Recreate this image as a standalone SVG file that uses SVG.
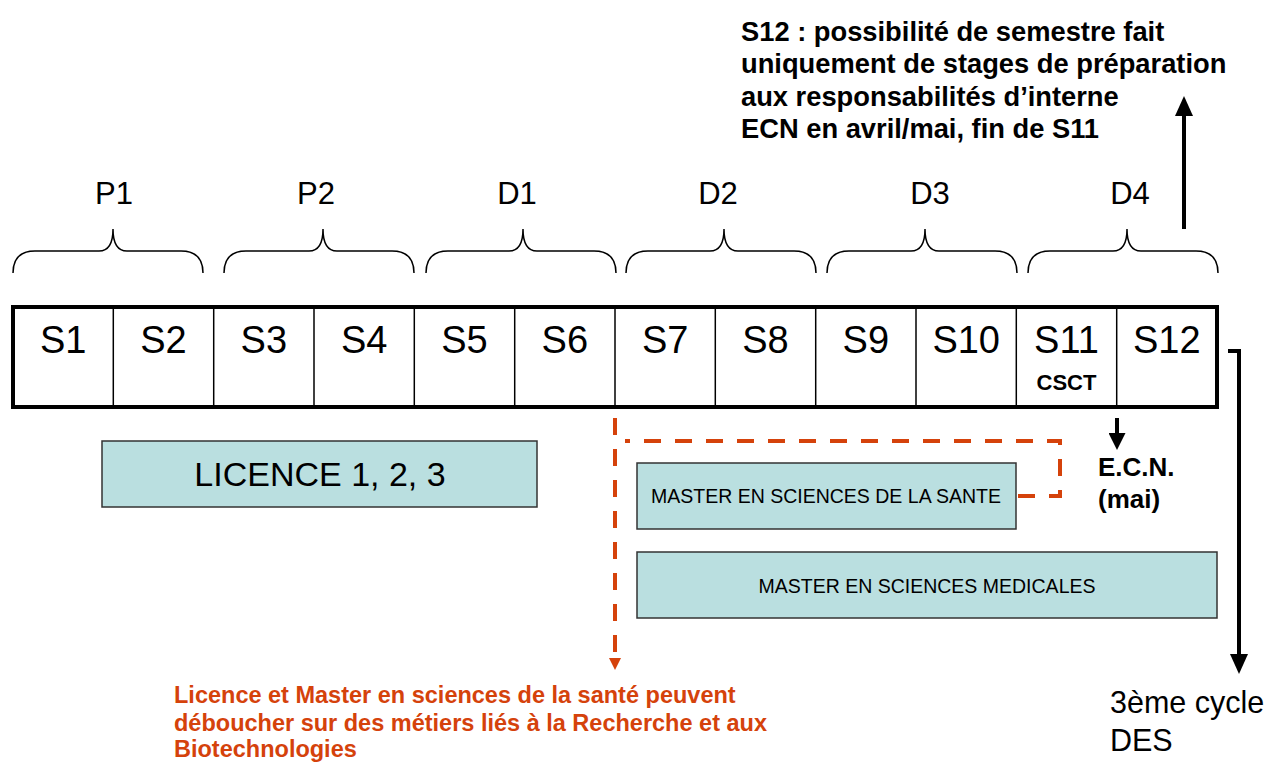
<svg xmlns="http://www.w3.org/2000/svg" width="1270" height="763" viewBox="0 0 1270 763">
<style>
text{font-family:"Liberation Sans",Arial,sans-serif;fill:#000}
.sem{font-size:38px;text-anchor:middle}
.yr{font-size:31px;text-anchor:middle}
.brace{fill:none;stroke:#000;stroke-width:1.5}
.box{fill:#BADFE0;stroke:#333;stroke-width:1.5}
.b{font-weight:bold}
.or{fill:#D5420B}
.orl{fill:none;stroke:#D5420B;stroke-width:4;stroke-dasharray:17 14}
.blk{fill:none;stroke:#000;stroke-width:4}
</style>
<defs>
<marker id="ah" markerUnits="userSpaceOnUse" viewBox="0 0 20 18" refX="6" refY="9" markerWidth="20" markerHeight="18" orient="auto"><path d="M0,0 L20,9 L0,18 z" fill="#000"/></marker>
<marker id="ahs" markerUnits="userSpaceOnUse" viewBox="0 0 17 17" refX="5" refY="8.5" markerWidth="17" markerHeight="17" orient="auto"><path d="M0,0 L17,8.5 L0,17 z" fill="#000"/></marker>
<marker id="aho" markerUnits="userSpaceOnUse" viewBox="0 0 12 12" refX="2" refY="6" markerWidth="12" markerHeight="12" orient="auto"><path d="M0,0 L12,6 L0,12 z" fill="#D5420B"/></marker>
</defs>

<g id="note-s12">
<text class="b" x="741" y="41" font-size="27.3">S12 : possibilité de semestre fait</text>
<text class="b" x="741" y="73" font-size="27.3">uniquement de stages de préparation</text>
<text class="b" x="741" y="106" font-size="27.3">aux responsabilités d’interne</text>
<text class="b" x="741" y="138" font-size="27.3">ECN en avril/mai, fin de S11</text>
</g>

<g id="years">
<text class="yr" x="114" y="204">P1</text>
<text class="yr" x="316" y="204">P2</text>
<text class="yr" x="517" y="204">D1</text>
<text class="yr" x="718" y="204">D2</text>
<text class="yr" x="930" y="204">D3</text>
<text class="yr" x="1130" y="204">D4</text>
<path class="brace" d="M13,273 Q13,251 35,251 H99 Q113,251 113,229 Q113,251 127,251 H181 Q203,251 203,273"/>
<path class="brace" d="M224,273 Q224,251 246,251 H309 Q323,251 323,229 Q323,251 337,251 H392 Q414,251 414,273"/>
<path class="brace" d="M426,273 Q426,251 448,251 H509 Q523,251 523,229 Q523,251 537,251 H594 Q616,251 616,273"/>
<path class="brace" d="M626,273 Q626,251 648,251 H710 Q724,251 724,229 Q724,251 738,251 H794 Q816,251 816,273"/>
<path class="brace" d="M827,273 Q827,251 849,251 H911 Q925,251 925,229 Q925,251 939,251 H995 Q1017,251 1017,273"/>
<path class="brace" d="M1028,273 Q1028,251 1050,251 H1113 Q1127,251 1127,229 Q1127,251 1141,251 H1196 Q1218,251 1218,273"/>
</g>

<g id="semesters">
<rect x="13" y="307" width="1204" height="100" fill="#fff" stroke="none"/>
<g stroke="#000" stroke-width="1.5">
<line x1="113.3" y1="307" x2="113.3" y2="407"/>
<line x1="213.7" y1="307" x2="213.7" y2="407"/>
<line x1="314" y1="307" x2="314" y2="407"/>
<line x1="414.3" y1="307" x2="414.3" y2="407"/>
<line x1="514.7" y1="307" x2="514.7" y2="407"/>
<line x1="615" y1="307" x2="615" y2="407"/>
<line x1="715.3" y1="307" x2="715.3" y2="407"/>
<line x1="815.7" y1="307" x2="815.7" y2="407"/>
<line x1="916" y1="307" x2="916" y2="407"/>
<line x1="1016.3" y1="307" x2="1016.3" y2="407"/>
<line x1="1116.7" y1="307" x2="1116.7" y2="407"/>
</g>
<rect x="13" y="307" width="1204" height="100" fill="none" stroke="#000" stroke-width="4"/>
<text class="sem" x="63.2" y="353">S1</text>
<text class="sem" x="163.5" y="353">S2</text>
<text class="sem" x="263.8" y="353">S3</text>
<text class="sem" x="364.2" y="353">S4</text>
<text class="sem" x="464.5" y="353">S5</text>
<text class="sem" x="564.8" y="353">S6</text>
<text class="sem" x="665.2" y="353">S7</text>
<text class="sem" x="765.5" y="353">S8</text>
<text class="sem" x="865.8" y="353">S9</text>
<text class="sem" x="966.2" y="353">S10</text>
<text class="sem" x="1066.5" y="353">S11</text>
<text class="sem" x="1166.8" y="353">S12</text>
<text class="b" x="1066.5" y="390" font-size="22" text-anchor="middle">CSCT</text>
</g>

<g id="licence">
<rect class="box" x="102" y="441" width="435" height="66"/>
<text x="320" y="486" font-size="34" text-anchor="middle">LICENCE 1, 2, 3</text>
</g>

<g id="master-sante">
<rect class="box" x="637" y="463" width="379" height="66"/>
<text x="651" y="503" font-size="19.5">MASTER EN SCIENCES DE LA SANTE</text>
</g>

<g id="master-medicales">
<rect class="box" x="637" y="552" width="580" height="66"/>
<text x="927" y="593" font-size="19.5" text-anchor="middle">MASTER EN SCIENCES MEDICALES</text>
</g>

<g id="ecn">
<text class="b" x="1098" y="476" font-size="26">E.C.N.</text>
<text class="b" x="1098" y="508" font-size="26">(mai)</text>
</g>

<g id="third-cycle">
<text x="1110" y="713" font-size="30.5">3ème cycle</text>
<text x="1110" y="751" font-size="30.5">DES</text>
</g>

<g id="note-recherche">
<text class="b or" x="174" y="703" font-size="23.5">Licence et Master en sciences de la santé peuvent</text>
<text class="b or" x="174" y="731" font-size="23.5">déboucher sur des métiers liés à la Recherche et aux</text>
<text class="b or" x="174" y="757" font-size="23.5">Biotechnologies</text>
</g>

<g id="connectors">
<line class="blk" x1="1184" y1="229" x2="1184" y2="110" marker-end="url(#ah)"/>
<path class="blk" d="M1228,351 H1239 V660" marker-end="url(#ah)"/>
<line class="blk" x1="1117" y1="418" x2="1117" y2="438" marker-end="url(#ahs)"/>
<path class="orl" d="M1018,496 H1060 V441 H625"/>
<line class="orl" x1="615" y1="418" x2="615" y2="660" marker-end="url(#aho)"/>
</g>
</svg>
